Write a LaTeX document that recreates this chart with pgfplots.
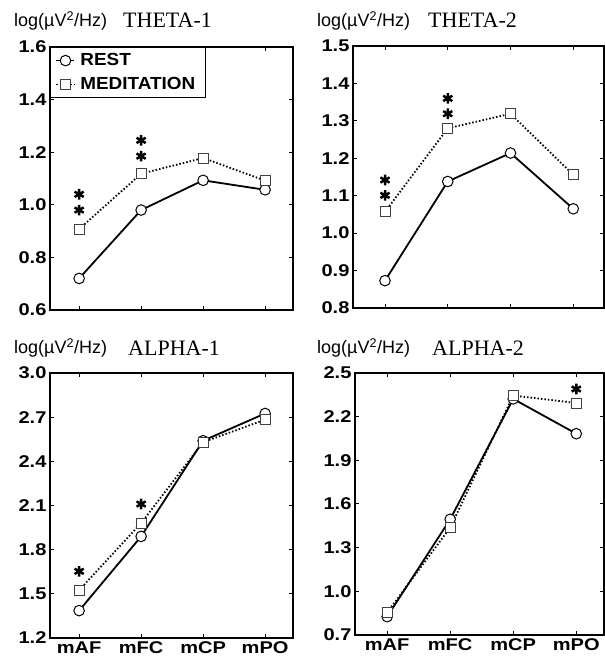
\documentclass[border=0pt]{standalone}
\usepackage{fontspec}
\setmainfont{Liberation Serif}
\newfontfamily\sansfont{Liberation Sans}
\newfontfamily\tickfont[FakeStretch=1.18]{Liberation Sans}
\newfontfamily\legfont[FakeStretch=1.08]{Liberation Sans}
\usepackage{pgfplots}
\pgfplotsset{compat=1.18}

\pgfplotsset{
  panel/.style={
    scale only axis, anchor=south west,
    axis line style={line width=1.4pt},
    tick style={line width=1pt, black},
    major tick length=4pt,
    xtick={0,1,2,3},
    tick label style={font=\tickfont\bfseries\fontsize{17}{17}\selectfont},
    /pgf/number format/fixed,
    /pgf/number format/fixed zerofill,
    /pgf/number format/precision=1,
    /pgf/number format/assume math mode=true,
  },
  rest/.style={black, line width=1.8pt, mark=*, mark size=5.3pt,
    mark options={fill=white, solid, line width=1pt}},
  med/.style={black, line width=1.8pt, dash pattern=on 1.5pt off 2pt,
    mark=square*, mark size=5pt,
    mark options={fill=white, solid, line width=0.7pt, draw=black!75}},
  stars/.style={only marks, black, mark=asterisk, mark size=5.3pt,
    mark options={line width=2.5pt, solid}},
  legend image code/.code={
    \draw[mark repeat=2, mark phase=2, #1]
      plot coordinates {(0pt,0pt) (9pt,0pt) (18pt,0pt)};
  },
}

\newcommand{\unitlab}{{\sansfont\fontsize{18}{18}\selectfont log(µV\textsuperscript{2}/Hz)}}
\newcommand{\bandlab}[1]{{\fontsize{22}{22}\selectfont #1}}

\begin{document}
\begin{tikzpicture}
\useasboundingbox (0,0) rectangle (605pt,662pt);

% ---------- THETA-1 ----------
\begin{axis}[panel, at={(50pt,352pt)}, width=243pt, height=263pt,
  xmin=-0.47, xmax=3.45, ymin=0.6, ymax=1.6,
  ytick={0.6,0.8,...,1.61}, xticklabels={},
  legend style={at={(0,1)}, anchor=north west, draw=black, line width=1.2pt,
    font=\legfont\bfseries\fontsize{17.5}{17.5}\selectfont,
    inner xsep=5pt, inner ysep=2pt, row sep=2pt, cells={anchor=west},
    nodes={minimum height=22pt, inner xsep=5pt}},
]
\addplot[rest] coordinates {(0,0.72) (1,0.98) (2,1.093) (3,1.057)};
\addlegendentry{REST}
\addplot[med] coordinates {(0,0.908) (1,1.118) (2,1.178) (3,1.092)};
\addlegendentry{MEDITATION}
\addplot[stars, forget plot] coordinates {(0,1.04) (0,0.98) (1,1.245) (1,1.185)};
\end{axis}

% ---------- THETA-2 ----------
\begin{axis}[panel, at={(353pt,354pt)}, width=251pt, height=262pt,
  xmin=-0.51, xmax=3.49, ymin=0.8, ymax=1.5,
  ytick={0.8,0.9,...,1.51}, xticklabels={},
]
\addplot[rest] coordinates {(0,0.873) (1,1.138) (2,1.214) (3,1.065)};
\addplot[med] coordinates {(0,1.057) (1,1.28) (2,1.319) (3,1.156)};
\addplot[stars] coordinates {(0,1.142) (0,1.101) (1,1.36) (1,1.319)};
\end{axis}

% ---------- ALPHA-1 ----------
\begin{axis}[panel, at={(50pt,24pt)}, width=243pt, height=265pt,
  xmin=-0.47, xmax=3.45, ymin=1.2, ymax=3.0,
  ytick={1.2,1.5,...,3.01}, xticklabels={mAF,mFC,mCP,mPO},
]
\addplot[rest] coordinates {(0,1.386) (1,1.89) (2,2.54) (3,2.725)};
\addplot[med] coordinates {(0,1.525) (1,1.98) (2,2.53) (3,2.683)};
\addplot[stars] coordinates {(0,1.653) (1,2.11)};
\end{axis}

% ---------- ALPHA-2 ----------
\begin{axis}[panel, at={(355pt,27pt)}, width=249pt, height=262pt,
  xmin=-0.51, xmax=3.44, ymin=0.7, ymax=2.5,
  ytick={0.7,1.0,...,2.51}, xticklabels={mAF,mFC,mCP,mPO},
]
\addplot[rest] coordinates {(0,0.826) (1,1.495) (2,2.322) (3,2.083)};
\addplot[med] coordinates {(0,0.854) (1,1.438) (2,2.345) (3,2.294)};
\addplot[stars] coordinates {(3,2.39)};
\end{axis}

% ---------- panel headings ----------
\node[anchor=base west, inner sep=0pt] at (14pt,635pt) {\unitlab};
\node[anchor=base west, inner sep=0pt] at (123pt,634pt) {\bandlab{THETA-1}};
\node[anchor=base west, inner sep=0pt] at (317pt,635pt) {\unitlab};
\node[anchor=base west, inner sep=0pt] at (428pt,634pt) {\bandlab{THETA-2}};
\node[anchor=base west, inner sep=0pt] at (14pt,308pt) {\unitlab};
\node[anchor=base west, inner sep=0pt] at (128pt,306pt) {\bandlab{ALPHA-1}};
\node[anchor=base west, inner sep=0pt] at (317pt,308pt) {\unitlab};
\node[anchor=base west, inner sep=0pt] at (432pt,306pt) {\bandlab{ALPHA-2}};
\end{tikzpicture}
\end{document}
